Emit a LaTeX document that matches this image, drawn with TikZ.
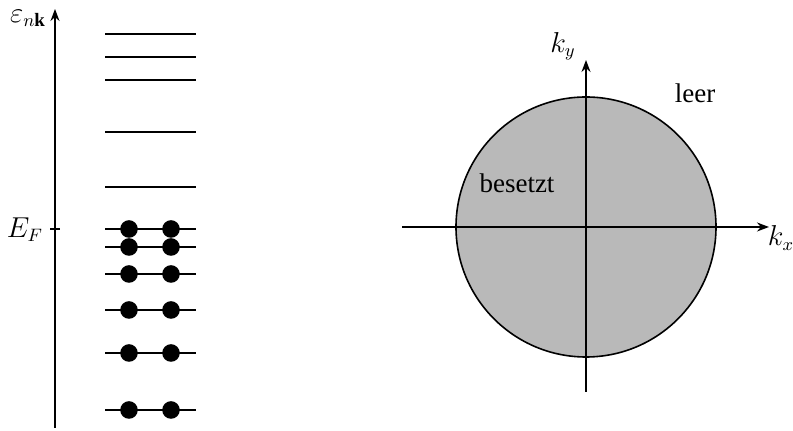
\documentclass[tikz,border=0pt,12pt]{standalone}
\usepackage{amsmath}
\usepackage{amssymb}
\usepackage{fontspec}
\setmainfont{Liberation Serif}
\usetikzlibrary{calc, arrows.meta}

\begin{document}
\begin{tikzpicture}[x=0.5pt, y=-0.5pt, line width=0.7pt,
    every node/.style={font=\fontsize{13.5}{16}\selectfont},
    level/.style={line width=0.6pt},
    electron/.style={circle, fill=black, inner sep=0pt, minimum size=8.8pt},
    axis/.style={-{Stealth[length=6pt, width=4.5pt]}}]
    \useasboundingbox (0, 0) rectangle (793, 431);

    % energy axis
    \coordinate (E0) at (55, 428);
    \coordinate (E1) at (55, 9);
    \draw[axis] (E0) -- (E1);
    \node[inner sep=0pt] (eps) at (28, 18) {$\varepsilon_{n\mathbf{k}}$};
    \coordinate (F) at (55, 229);
    \draw ($(F)+(-5,0)$) -- ($(F)+(5,0)$);
    \node (EF) at (25, 230) {$E_F$};

    % empty levels
    \draw[level] (105, 34) -- (196, 34);
    \draw[level] (105, 57) -- (196, 57);
    \draw[level] (105, 80) -- (196, 80);
    \draw[level] (105, 132) -- (196, 132);
    \draw[level] (105, 187) -- (196, 187);

    % occupied levels
    \draw[level] (105, 229) -- (196, 229);
    \draw[level] (105, 247) -- (196, 247);
    \draw[level] (105, 274) -- (196, 274);
    \draw[level] (105, 310) -- (196, 310);
    \draw[level] (105, 353) -- (196, 353);
    \draw[level] (105, 410) -- (196, 410);

    \node[electron] (a1) at (129, 229) {};
    \node[electron] (b1) at (171, 229) {};
    \node[electron] (a2) at (129, 247) {};
    \node[electron] (b2) at (171, 247) {};
    \node[electron] (a3) at (129, 274) {};
    \node[electron] (b3) at (171, 274) {};
    \node[electron] (a4) at (129, 310) {};
    \node[electron] (b4) at (171, 310) {};
    \node[electron] (a5) at (129, 353) {};
    \node[electron] (b5) at (171, 353) {};
    \node[electron] (a6) at (129, 410) {};
    \node[electron] (b6) at (171, 410) {};

    % Fermi circle
    \coordinate (O) at (586, 227);
    \draw[line width=0.8pt, fill={rgb,255:red,185;green,185;blue,185}] (O) circle[radius=130];
    \coordinate (X0) at (402, 227);
    \coordinate (X1) at (769, 227);
    \coordinate (Y0) at (586, 392);
    \coordinate (Y1) at (586, 60);
    \draw[axis] (X0) -- (X1);
    \draw[axis] (Y0) -- (Y1);

    \node (kx) at (781, 238) {$k_x$};
    \node (ky) at (563, 46) {$k_y$};
    \node (leer) at (695, 93) {leer};
    \node (besetzt) at (517, 183) {besetzt};
\end{tikzpicture}
\end{document}
